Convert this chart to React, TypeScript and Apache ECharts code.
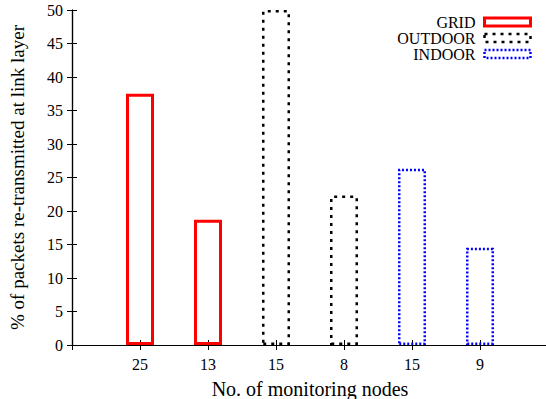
import React, { useEffect, useRef } from 'react';
import * as echarts from 'echarts';

const xTickLabels = ['25', '13', '15', '8', '15', '9'];
const seriesNames = ['GRID', 'OUTDOOR', 'INDOOR'];
const gridPositions = [1, 2];
const gridValues = [37.5, 18.7];
const outdoorPositions = [3, 4];
const outdoorValues = [50, 22.3];
const indoorPositions = [5, 6];
const indoorValues = [26.3, 14.5];
const yMin = 0;
const yMax = 50;
const yStep = 5;
const xAxisTitle = 'No. of monitoring nodes';
const yAxisTitle = '% of packets re-transmitted at link layer';

const FONT = '"Liberation Serif", "DejaVu Serif", serif';

function pairs(xs: number[], ys: number[]) {
  return xs.map((x, i) => [x, ys[i]]);
}

export default function App() {
  const ref = useRef<HTMLDivElement>(null);
  useEffect(() => {
    if (!ref.current) return;
    const chart = echarts.init(ref.current, undefined, { renderer: 'svg' });
    const styles = [
      { borderColor: '#ff0000', borderType: 'solid' as any, borderWidth: 3 },
      { borderColor: '#000000', borderType: [3, 5] as any, borderWidth: 2.5 },
      { borderColor: '#0000ff', borderType: [2, 2] as any, borderWidth: 2.5 },
    ];
    const datasets = [
      pairs(gridPositions, gridValues),
      pairs(outdoorPositions, outdoorValues),
      pairs(indoorPositions, indoorValues),
    ];
    const axisLine = { show: true, lineStyle: { color: '#000', width: 1.2 } };
    const tick = { show: true, inside: true, length: 5, lineStyle: { color: '#000', width: 1 } };
    chart.setOption({
      animation: false,
      backgroundColor: '#fff',
      grid: {
        left: 72,
        width: 476,
        top: 10,
        height: 335,
        containLabel: false,
        outerBoundsMode: 'none',
      },
      legend: {
        orient: 'vertical',
        right: 14,
        top: 14,
        align: 'right',
        icon: 'rect',
        itemWidth: 46,
        itemHeight: 8,
        itemGap: 0,
        padding: 0,
        selectedMode: false,
        textStyle: { fontFamily: FONT, fontSize: 16, color: '#000', lineHeight: 15, padding: [0, 4, 0, 0] },
        data: seriesNames.map((n, i) => ({
          name: n,
          itemStyle: {
            color: 'transparent',
            borderColor: styles[i].borderColor,
            borderWidth: styles[i].borderWidth,
            borderType: styles[i].borderType,
          },
        })),
      },
      xAxis: [
        {
          type: 'value',
          min: 0,
          max: 7,
          interval: 1,
          position: 'bottom',
          axisLine,
          axisTick: tick,
          splitLine: { show: false },
          axisLabel: {
            margin: 11,
            fontFamily: FONT,
            fontSize: 16,
            color: '#000',
            formatter: (v: number) => xTickLabels[v - 1] ?? '',
          },
          name: xAxisTitle,
          nameLocation: 'middle',
          nameGap: 34,
          nameTextStyle: { fontFamily: FONT, fontSize: 20, color: '#000' },
        },
        {
          type: 'value',
          min: 0,
          max: 7,
          interval: 1,
          position: 'top',
          axisLine,
          axisTick: tick,
          splitLine: { show: false },
          axisLabel: { show: false },
        },
      ],
      yAxis: [
        {
          type: 'value',
          min: yMin,
          max: yMax,
          interval: yStep,
          position: 'left',
          axisLine,
          axisTick: tick,
          splitLine: { show: false },
          axisLabel: { margin: 9, fontFamily: FONT, fontSize: 16, color: '#000' },
          name: yAxisTitle,
          nameLocation: 'middle',
          nameGap: 45,
          nameTextStyle: { fontFamily: FONT, fontSize: 19, color: '#000' },
        },
        {
          type: 'value',
          min: yMin,
          max: yMax,
          interval: yStep,
          position: 'right',
          axisLine,
          axisTick: tick,
          splitLine: { show: false },
          axisLabel: { show: false },
        },
      ],
      series: seriesNames.map((n, i) => ({
        name: n,
        type: 'bar',
        xAxisIndex: 0,
        yAxisIndex: 0,
        barWidth: 28,
        barGap: '-100%',
        data: datasets[i],
        itemStyle: {
          color: 'transparent',
          borderColor: styles[i].borderColor,
          borderWidth: styles[i].borderWidth,
          borderType: styles[i].borderType,
        },
        emphasis: { disabled: true },
      })),
    });
    return () => chart.dispose();
  }, []);
  return (
    <div
      ref={ref}
      style={{ position: 'fixed', left: 0, top: 0, width: 546, height: 399, background: '#fff' }}
    />
  );
}
